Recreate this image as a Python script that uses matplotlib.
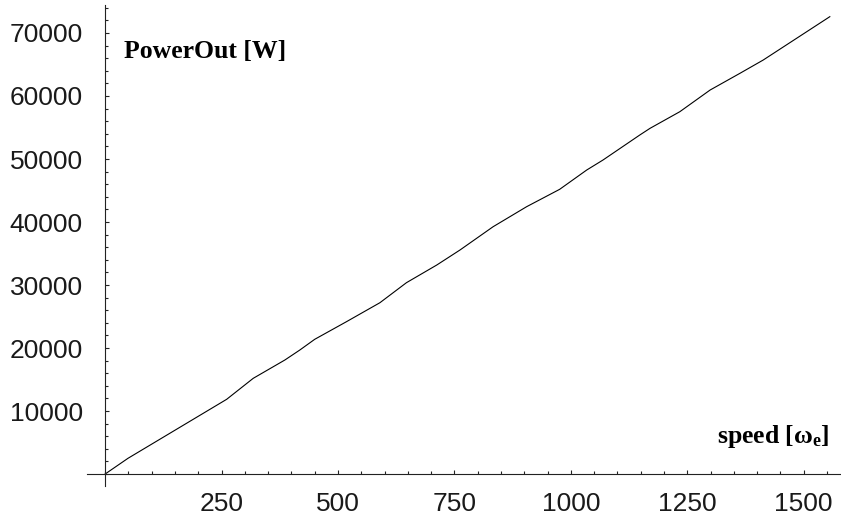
import matplotlib
matplotlib.use("Agg")
import matplotlib.pyplot as plt
from matplotlib.ticker import MultipleLocator, FixedLocator

# output power against electrical speed
speed = [0, 49, 261, 318, 386, 418, 450, 518, 590, 647, 712, 762, 833,
         905, 976, 1034, 1069, 1148, 1170, 1234, 1299, 1363, 1413, 1556]
power_out = [0, 2490, 11860, 15190, 18100, 19680, 21380, 24170, 27190, 30370,
             33170, 35560, 39250, 42430, 45190, 48250, 49840, 53810, 54870,
             57510, 60950, 63600, 65710, 72590]

x_major = [250, 500, 750, 1000, 1250, 1500]
y_major = [10000, 20000, 30000, 40000, 50000, 60000, 70000]

plt.rcParams["mathtext.fontset"] = "custom"
plt.rcParams["mathtext.rm"] = "Liberation Serif:bold"
plt.rcParams["mathtext.it"] = "Liberation Serif:bold"
plt.rcParams["mathtext.bf"] = "Liberation Serif:bold"

fig = plt.figure(figsize=(8.41, 5.23), dpi=100)
ax = fig.add_axes([0.1034, 0.0707, 0.8966, 0.9197])

ax.plot(speed, power_out, color="black", linewidth=0.8)

ax.set_xlim(-39, 1580)
ax.set_ylim(-1905, 74440)

# axes crossing at the origin
ax.spines["left"].set_position(("data", 0))
ax.spines["bottom"].set_position(("data", 0))
ax.spines["top"].set_visible(False)
ax.spines["right"].set_visible(False)
for side in ["left", "bottom"]:
    ax.spines[side].set_linewidth(0.8)
    ax.spines[side].set_color("#222222")

ax.xaxis.set_major_locator(FixedLocator(x_major))
ax.yaxis.set_major_locator(FixedLocator(y_major))
ax.xaxis.set_minor_locator(MultipleLocator(50))
ax.yaxis.set_minor_locator(MultipleLocator(2000))
ax.set_xticklabels([str(v) for v in x_major])
ax.set_yticklabels([str(v) for v in y_major])

ax.tick_params(which="both", direction="in", color="#222222", width=0.8)
ax.tick_params(which="major", length=3.2)
ax.tick_params(which="minor", length=2.2)
ax.tick_params(axis="x", which="major", pad=13)
ax.tick_params(axis="y", which="major", pad=16)
for lbl in ax.get_xticklabels() + ax.get_yticklabels():
    lbl.set_fontfamily("Liberation Sans")
    lbl.set_fontsize(19)
    lbl.set_color("#1a1a1a")

ax.text(40, 66030, "PowerOut [W]", family="Liberation Serif", fontweight="bold",
        fontsize=18.5, ha="left", va="baseline")
ax.text(1556, 4970, r"speed [$\omega_{\mathrm{e}}$]", family="Liberation Serif",
        fontweight="bold", fontsize=18.5, ha="right", va="baseline")

fig.savefig("out.png", dpi=100)
